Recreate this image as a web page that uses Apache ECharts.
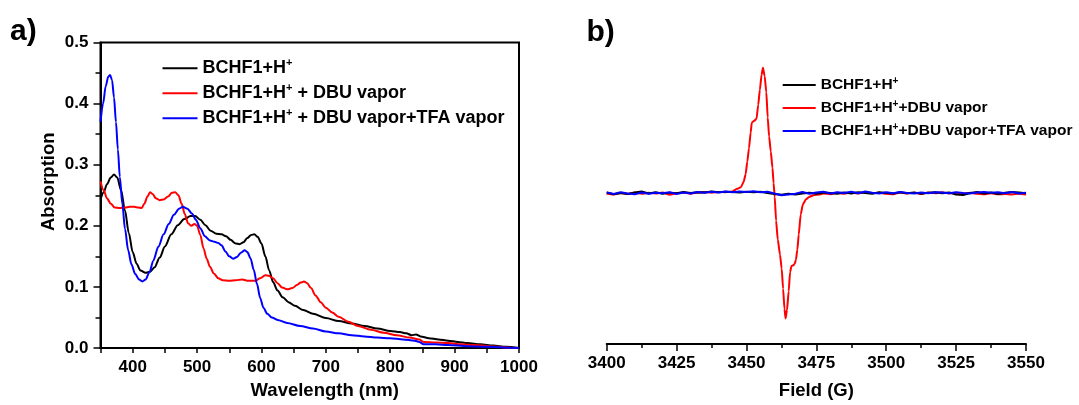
<!DOCTYPE html>
<html>
<head>
<meta charset="utf-8">
<script src="https://cdn.jsdelivr.net/npm/echarts@6/dist/echarts.min.js"></script>
<style>
html,body{margin:0;padding:0;background:#fff;}
#chart{width:1079px;height:405px;}
</style>
</head>
<body>
<div id="chart"></div>
<script>
// ---------- Panel a) UV-vis absorption ----------
const seriesNamesA = ['BCHF1+H+', 'BCHF1+H+ + DBU vapor', 'BCHF1+H+ + DBU vapor+TFA vapor'];

const waveBlack = [350,355,360,366,371,376,382,388,394,400,406,412,420,427,434,442,450,460,470,480,490,497,505,513,521,530,538,545,552,560,566,572,578,584,589,594,600,606,612,618,625,633,642,652,665,680,700,720,740,760,780,800,815,825,833,840,847,860,875,890,905,920,940,960,980,1000];
const absBlack = [0.243,0.255,0.268,0.279,0.284,0.279,0.258,0.225,0.188,0.157,0.138,0.127,0.123,0.125,0.132,0.148,0.166,0.186,0.201,0.211,0.216,0.216,0.210,0.201,0.192,0.187,0.186,0.183,0.177,0.171,0.170,0.173,0.180,0.185,0.186,0.182,0.171,0.150,0.127,0.108,0.094,0.083,0.075,0.069,0.062,0.056,0.049,0.044,0.040,0.036,0.032,0.028,0.026,0.024,0.021,0.022,0.019,0.016,0.014,0.012,0.010,0.008,0.006,0.004,0.002,0.000];

const waveRed = [350,355,360,366,372,380,388,395,402,409,414,418,423,427,431,436,442,448,455,461,466,471,476,481,486,491,496,500,505,510,515,520,526,533,540,550,560,570,580,590,598,606,612,618,625,632,640,648,655,661,666,671,677,684,692,700,710,720,735,750,770,790,810,830,845,852,870,890,910,930,955,980,1000];
const absRed = [0.273,0.258,0.245,0.236,0.230,0.229,0.230,0.231,0.231,0.230,0.229,0.236,0.248,0.255,0.252,0.245,0.242,0.243,0.248,0.254,0.255,0.250,0.236,0.219,0.204,0.200,0.203,0.200,0.185,0.163,0.146,0.133,0.122,0.114,0.111,0.110,0.111,0.112,0.110,0.110,0.114,0.119,0.118,0.114,0.106,0.099,0.096,0.098,0.103,0.107,0.109,0.106,0.098,0.086,0.075,0.066,0.058,0.051,0.043,0.036,0.030,0.025,0.021,0.017,0.014,0.010,0.009,0.008,0.006,0.005,0.003,0.001,0.000];

const waveBlue = [350,354,358,362,365,368,371,374,377,380,384,388,393,398,404,410,415,420,426,432,440,448,456,464,472,478,485,492,498,505,512,520,527,533,538,544,550,556,562,568,574,578,583,588,593,598,603,609,616,625,640,660,680,700,720,740,760,780,800,820,838,845,852,870,890,920,950,975,1000];
const absBlue = [0.370,0.400,0.428,0.444,0.447,0.438,0.410,0.370,0.325,0.280,0.235,0.195,0.160,0.137,0.121,0.112,0.109,0.112,0.124,0.143,0.166,0.186,0.203,0.218,0.228,0.231,0.228,0.220,0.210,0.196,0.183,0.176,0.174,0.172,0.168,0.158,0.150,0.146,0.149,0.156,0.160,0.157,0.147,0.128,0.105,0.082,0.066,0.056,0.050,0.046,0.041,0.036,0.032,0.027,0.024,0.021,0.019,0.017,0.016,0.014,0.012,0.010,0.006,0.006,0.005,0.003,0.002,0.001,0.000];

// ---------- Panel b) EPR ----------
const seriesNamesB = ['BCHF1+H+', 'BCHF1+H++DBU vapor', 'BCHF1+H++DBU vapor+TFA vapor'];

const fieldBase = [3400,3402.5,3405,3407.5,3410,3412.5,3415,3417.5,3420,3422.5,3425,3427.5,3430,3432.5,3435,3437.5,3440,3442.5,3445,3447.5,3450,3452.5,3455,3457.5,3460,3462.5,3465,3467.5,3470,3472.5,3475,3477.5,3480,3482.5,3485,3487.5,3490,3492.5,3495,3497.5,3500,3502.5,3505,3507.5,3510,3512.5,3515,3517.5,3520,3522.5,3525,3527.5,3530,3532.5,3535,3537.5,3540,3542.5,3545,3547.5,3550];
const eprBlack = [0.005,-0.010,0.000,-0.008,0.004,0.012,-0.004,0.006,-0.006,0.003,-0.002,0.008,0.000,0.006,0.004,0.012,0.006,0.010,0.008,0.004,0.010,0.006,0.010,0.000,-0.008,-0.014,-0.006,-0.012,-0.004,0.002,-0.006,0.004,0.000,-0.006,0.004,-0.004,0.006,0.000,-0.006,0.006,0.000,-0.004,0.006,-0.002,0.004,-0.006,0.002,0.006,-0.002,0.004,-0.012,-0.016,0.000,0.008,-0.004,0.004,-0.008,0.002,0.008,0.004,-0.002];
const eprBlue = [0.004,-0.008,0.006,-0.004,-0.010,0.004,-0.006,0.002,-0.002,0.006,-0.008,0.004,-0.004,0.008,0.002,0.010,0.004,0.012,0.006,0.012,0.008,0.014,0.006,0.010,-0.004,-0.018,-0.012,-0.006,0.008,-0.006,0.004,0.010,-0.004,0.006,0.000,0.010,-0.002,0.012,0.002,-0.004,0.006,-0.002,0.008,0.000,-0.004,0.004,-0.002,0.006,0.004,-0.002,0.006,0.000,-0.004,0.004,0.008,0.002,0.006,-0.002,0.008,-0.004,0.002];

const fieldRed = [3400,3402.5,3405,3407.5,3410,3412.5,3415,3417.5,3420,3422.5,3425,3427.5,3430,3432.5,3435,3437.5,3440,3442.5,3445,3446.6,3448.0,3449.0,3449.7,3450.3,3450.9,3451.5,3451.9,3452.8,3453.6,3454.2,3454.8,3455.4,3455.9,3456.5,3457.1,3457.6,3458.1,3458.7,3459.3,3459.7,3460.1,3460.6,3461.2,3462.0,3462.6,3463.1,3463.6,3464.0,3464.5,3465.1,3465.6,3466.1,3466.7,3467.2,3467.7,3468.2,3468.7,3469.4,3470.2,3471.3,3472.5,3474,3476,3477.5,3480,3482.5,3485,3487.5,3490,3492.5,3495,3497.5,3500,3502.5,3505,3507.5,3510,3512.5,3515,3517.5,3520,3522.5,3525,3527.5,3530,3532.5,3535,3537.5,3540,3542.5,3545,3547.5,3550];
const eprRed = [-0.006,-0.012,0.000,-0.008,0.004,-0.006,0.002,-0.004,0.004,-0.014,-0.002,0.004,-0.006,0.004,0.008,0.002,0.008,0.006,0.012,0.033,0.045,0.090,0.149,0.250,0.354,0.480,0.559,0.575,0.590,0.700,0.820,0.940,0.995,0.930,0.800,0.600,0.450,0.330,0.200,0.080,-0.030,-0.220,-0.370,-0.490,-0.600,-0.760,-0.920,-0.997,-0.930,-0.780,-0.630,-0.580,-0.575,-0.565,-0.530,-0.450,-0.330,-0.170,-0.090,-0.050,-0.030,-0.018,-0.012,-0.004,-0.010,0.002,-0.006,0.004,-0.004,0.006,0.000,0.002,-0.006,-0.010,0.004,-0.004,0.002,-0.008,0.004,-0.002,0.006,-0.004,0.002,-0.006,0.002,-0.006,-0.010,-0.002,-0.010,-0.008,-0.012,-0.006,-0.012];

const FONT = '"Liberation Sans", Arial, Helvetica, sans-serif';
const pair = (xs, ys) => xs.map((x, i) => [x, ys[i]]);

function supFormatter(name) {
  const i = name.indexOf('H+');
  const head = name.slice(0, i + 1);
  const tail = name.slice(i + 2);
  return '{t|' + head + '}{s|+}' + (tail ? '{t|' + tail + '}' : '');
}

const chart = echarts.init(document.getElementById('chart'), null, {renderer: 'canvas'});

const axisLabelStyle = {color: '#000', fontWeight: 'bold', fontSize: 17, fontFamily: FONT};

chart.setOption({
  animation: false,
  backgroundColor: '#fff',
  textStyle: {fontFamily: FONT},
  grid: [
    {left: 100.5, top: 42.5, width: 418.5, height: 310, show: true, borderColor: '#000', borderWidth: 2, backgroundColor: 'transparent'},
    {left: 606.7, top: 42, width: 419.3, height: 310.5}
  ],
  xAxis: [
    {
      gridIndex: 0, type: 'value', min: 350, max: 1000, interval: 50,
      name: 'Wavelength (nm)', nameLocation: 'middle', nameGap: 33,
      nameTextStyle: {color: '#000', fontWeight: 'bold', fontSize: 18.5, fontFamily: FONT, padding: [0, 0, 0, 30]},
      axisLine: {show: true, onZero: false, lineStyle: {color: '#000', width: 2}},
      axisTick: {show: true, inside: false, length: 5, lineStyle: {color: '#000', width: 1.5}},
      axisLabel: Object.assign({margin: 11, formatter: v => (v % 100 === 0 ? String(v) : '')}, axisLabelStyle),
      splitLine: {show: false}
    },
    {
      gridIndex: 1, type: 'value', min: 3400, max: 3550, interval: 25,
      name: 'Field (G)', nameLocation: 'middle', nameGap: 37,
      nameTextStyle: {color: '#000', fontWeight: 'bold', fontSize: 18.5, fontFamily: FONT},
      axisLine: {show: true, onZero: false, lineStyle: {color: '#000', width: 2}},
      axisTick: {show: true, inside: false, length: 7, lineStyle: {color: '#000', width: 1.5}},
      minorTick: {show: true, splitNumber: 2, length: 4, lineStyle: {color: '#000', width: 1.5}},
      axisLabel: Object.assign({margin: 11, formatter: v => String(v)}, axisLabelStyle),
      splitLine: {show: false},
      minorSplitLine: {show: false}
    }
  ],
  yAxis: [
    {
      gridIndex: 0, type: 'value', min: 0, max: 0.5, interval: 0.1,
      name: 'Absorption', nameLocation: 'middle', nameGap: 42,
      nameTextStyle: {color: '#000', fontWeight: 'bold', fontSize: 18.5, fontFamily: FONT, padding: [0, 0, 0, 27]},
      axisLine: {show: true, onZero: false, lineStyle: {color: '#000', width: 2}},
      axisTick: {show: true, inside: false, length: 7, lineStyle: {color: '#000', width: 1.5}},
      minorTick: {show: true, splitNumber: 2, length: 5, lineStyle: {color: '#000', width: 1.5}},
      axisLabel: Object.assign({margin: 12, formatter: v => v.toFixed(1)}, axisLabelStyle),
      splitLine: {show: false},
      minorSplitLine: {show: false}
    },
    {
      gridIndex: 1, type: 'value', min: -1.2, max: 1.2, show: false,
      splitLine: {show: false}
    }
  ],
  legend: [
    {
      data: seriesNamesA.map((n, i) => ({name: n, itemStyle: {color: ['#000', '#ff0000', '#0000ff'][i]}})),
      orient: 'vertical', left: 162.5, top: 57.3, itemGap: 5, padding: 0,
      icon: 'rect', itemWidth: 35, itemHeight: 2,
      selectedMode: false,
      formatter: supFormatter,
      textStyle: {
        rich: {
          t: {fontSize: 18, fontWeight: 'bold', fontFamily: FONT, color: '#000', lineHeight: 22},
          s: {fontSize: 11, fontWeight: 'bold', fontFamily: FONT, color: '#000', verticalAlign: 'top', lineHeight: 12}
        }
      }
    },
    {
      data: seriesNamesB.map((n, i) => ({name: n, itemStyle: {color: ['#000', '#ff0000', '#0000ff'][i]}})),
      orient: 'vertical', left: 782.7, top: 76, itemGap: 6, padding: 0,
      icon: 'rect', itemWidth: 33, itemHeight: 2,
      selectedMode: false,
      formatter: supFormatter,
      textStyle: {
        rich: {
          t: {fontSize: 15.5, fontWeight: 'bold', fontFamily: FONT, color: '#000', lineHeight: 18},
          s: {fontSize: 10, fontWeight: 'bold', fontFamily: FONT, color: '#000', verticalAlign: 'top', lineHeight: 10}
        }
      }
    }
  ],
  graphic: [
    {type: 'text', left: 10, top: 17, style: {text: 'a)', font: 'bold 30px ' + FONT, fill: '#000'}},
    {type: 'text', left: 586.5, top: 18, style: {text: 'b)', font: 'bold 30px ' + FONT, fill: '#000'}}
  ],
  series: [
    {name: seriesNamesA[0], type: 'line', xAxisIndex: 0, yAxisIndex: 0, data: pair(waveBlack, absBlack), showSymbol: false, smooth: 0.3, smoothMonotone: 'x', color: '#000', lineStyle: {width: 2}},
    {name: seriesNamesA[1], type: 'line', xAxisIndex: 0, yAxisIndex: 0, data: pair(waveRed, absRed), showSymbol: false, smooth: 0.3, smoothMonotone: 'x', color: '#ff0000', lineStyle: {width: 2}},
    {name: seriesNamesA[2], type: 'line', xAxisIndex: 0, yAxisIndex: 0, data: pair(waveBlue, absBlue), showSymbol: false, smooth: 0.3, smoothMonotone: 'x', color: '#0000ff', lineStyle: {width: 2}},
    {name: seriesNamesB[1], type: 'line', xAxisIndex: 1, yAxisIndex: 1, data: pair(fieldRed, eprRed), showSymbol: false, smooth: 0.2, smoothMonotone: 'x', color: '#ff0000', lineStyle: {width: 2}},
    {name: seriesNamesB[0], type: 'line', xAxisIndex: 1, yAxisIndex: 1, data: pair(fieldBase, eprBlack), showSymbol: false, color: '#000', lineStyle: {width: 2}},
    {name: seriesNamesB[2], type: 'line', xAxisIndex: 1, yAxisIndex: 1, data: pair(fieldBase, eprBlue), showSymbol: false, color: '#0000ff', lineStyle: {width: 2.2}}
  ]
});
</script>
</body>
</html>
